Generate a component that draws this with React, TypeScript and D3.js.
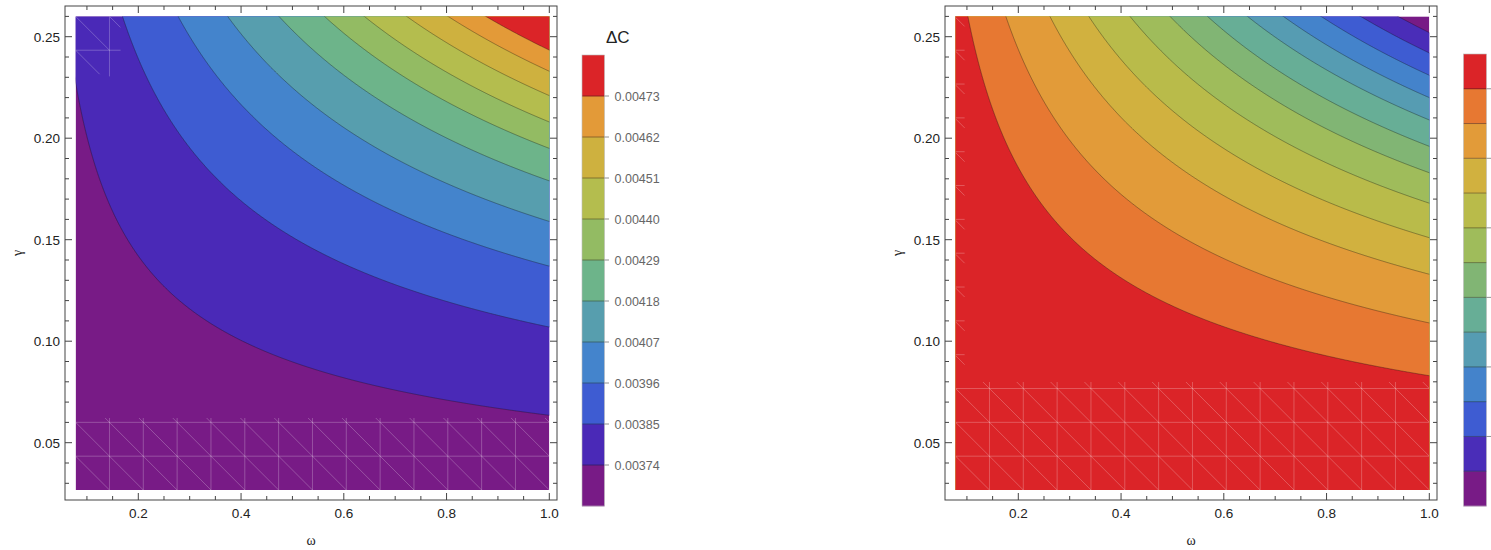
import React, { useMemo } from "react";
import * as d3 from "d3";

// ---------------- data ----------------
const X_MAJOR = [0.2, 0.4, 0.6, 0.8, 1.0];
const X_MINOR = [0.1, 0.15, 0.25, 0.3, 0.35, 0.45, 0.5, 0.55, 0.65, 0.7, 0.75, 0.85, 0.9, 0.95];
const Y_MAJOR = [0.05, 0.1, 0.15, 0.2, 0.25];
const Y_MINOR = [0.03, 0.04, 0.06, 0.07, 0.08, 0.09, 0.11, 0.12, 0.13, 0.14, 0.16, 0.17, 0.18, 0.19, 0.21, 0.22, 0.23, 0.24, 0.26];
const OMEGA_RANGE = [0.078, 1.0];
const GAMMA_RANGE = [0.0267, 0.26];

// Left panel: ΔC contour levels and where each contour lies (value of γ·√ω along the contour)
const LEFT_LEVELS = [0.00374, 0.00385, 0.00396, 0.00407, 0.00418, 0.00429, 0.0044, 0.00451, 0.00462, 0.00473];
const LEFT_LEVEL_U = [0.0635, 0.107, 0.137, 0.159, 0.179, 0.195, 0.208, 0.221, 0.233, 0.2434];
const LEFT_TICK_LABELS = ["0.00374", "0.00385", "0.00396", "0.00407", "0.00418", "0.00429", "0.00440", "0.00451", "0.00462", "0.00473"];
const LEFT_COLORS = ["#781b86", "#4a29b7", "#3e5cd2", "#4484cc", "#579eae", "#6db48a", "#93bb63", "#b4bd4e", "#ceb13f", "#e39a38", "#db2428"];

// Right panel: 12 contour levels (labels are cut off at the page edge)
const RIGHT_LEVELS = [1, 2, 3, 4, 5, 6, 7, 8, 9, 10, 11, 12];
const RIGHT_LEVEL_U = [0.252, 0.242, 0.231, 0.22, 0.209, 0.196, 0.183, 0.168, 0.151, 0.133, 0.109, 0.083];
const RIGHT_TICKED = [2, 4, 6, 8, 10, 12];
const RIGHT_COLORS = ["#781b86", "#4a2db8", "#3e5cd2", "#4483cb", "#569cb2", "#67ae96", "#81b574", "#9fbc5b", "#b9bb4a", "#d1b13f", "#e29b39", "#e77832", "#db2428"];

// ---------------- layout ----------------
const FRAME = { left: 65, right: 557, top: 6, bottom: 500 };
const FONT = "'Liberation Sans', Arial, sans-serif";

function makeScales(offset: number) {
  const xs = d3.scaleLinear().domain([0.2, 1.0]).range([138.3 + offset, 549.3 + offset]);
  const ys = d3.scaleLinear().domain([0.05, 0.25]).range([442.7, 36.7]);
  return { xs, ys };
}

function Panel({ offset, levels, levelU, colors, id, hatchTop, leftTicks, cornerArtifact }: any) {
  const { xs, ys } = makeScales(offset);
  const dL = xs(OMEGA_RANGE[0]);
  const dR = xs(OMEGA_RANGE[1]);
  const dT = ys(GAMMA_RANGE[1]);
  const dB = ys(GAMMA_RANGE[0]);

  const paths = useMemo(() => {
    const field = d3.scaleLinear().domain(levelU).range(levels);
    const step = 1;
    const x0 = dL - 3, x1 = dR + 3, y0 = dT - 3, y1 = dB + 3;
    const n = Math.ceil((x1 - x0) / step);
    const m = Math.ceil((y1 - y0) / step);
    const values = new Float64Array(n * m);
    for (let j = 0; j < m; j++) {
      const g = ys.invert(y0 + (j + 0.5) * step);
      for (let i = 0; i < n; i++) {
        const w = Math.max(xs.invert(x0 + (i + 0.5) * step), 0.001);
        values[j * n + i] = field(g * Math.sqrt(w));
      }
    }
    const cs = d3.contours().size([n, m]).thresholds(levels)(values as any);
    const proj = d3.geoTransform({
      point: function (this: any, x: number, y: number) {
        this.stream.point(x0 + x * step, y0 + y * step);
      },
    });
    const path = d3.geoPath(proj as any);
    return cs.map((c: any) => path(c) || "");
  }, [offset]);

  const fL = FRAME.left + offset, fR = FRAME.right + offset;
  const cw = (dR - dL) / 14, ch = (dB - dT) / 14;
  const hatch: any[] = [];
  const meshStroke = "rgba(255,255,255,0.3)";
  // mesh artifact near the bottom
  for (let r = 0; r < 14; r++) {
    const yt = dT + r * ch, yb = yt + ch;
    if (yb < hatchTop) continue;
    hatch.push(<line key={`h${r}`} x1={dL} x2={dR} y1={yt} y2={yt} />);
    for (let c = 0; c < 14; c++) {
      const xl = dL + c * cw;
      if (c > 0) hatch.push(<line key={`v${r}-${c}`} x1={xl} x2={xl} y1={yt} y2={yb} />);
      hatch.push(<line key={`d${r}-${c}`} x1={xl} x2={xl + cw} y1={yt} y2={yb} />);
    }
  }
  const edge: any[] = [];
  if (leftTicks) {
    for (let r = 0; r < 11; r++) {
      const y = dT + r * ch;
      edge.push(<line key={`e${r}`} x1={dL} x2={dL + 9} y1={y + 1} y2={y + 10} />);
      if (r > 0) edge.push(<line key={`eh${r}`} x1={dL} x2={dL + 9} y1={y} y2={y} />);
    }
  }
  if (cornerArtifact) {
    edge.push(<line key="c1" x1={dL} y1={dT} x2={dL + cw} y2={dT + ch} />);
    edge.push(<line key="c2" x1={dL} y1={dT + ch} x2={dL + 24} y2={dT + ch + 24} />);
    edge.push(<line key="c3" x1={dL + cw} y1={dT} x2={dL + cw + 11} y2={dT + 11} />);
    edge.push(<line key="c4" x1={dL + cw} y1={dT} x2={dL + cw} y2={dT + 60} />);
    edge.push(<line key="c5" x1={dL} y1={dT + ch} x2={dL + 45} y2={dT + ch} />);
  }

  return (
    <g>
      <defs>
        <clipPath id={`clip${id}`}>
          <rect x={dL} y={dT} width={dR - dL} height={dB - dT} />
        </clipPath>
        <clipPath id={`hclip${id}`}>
          <rect x={dL} y={hatchTop} width={dR - dL} height={dB - hatchTop} />
        </clipPath>
      </defs>
      <g clipPath={`url(#clip${id})`}>
        <rect x={dL} y={dT} width={dR - dL} height={dB - dT} fill={colors[0]} />
        {paths.map((p: string, i: number) => (
          <path key={`f${i}`} d={p} fill={colors[i + 1]} />
        ))}
        {paths.map((p: string, i: number) => (
          <path key={`s${i}`} d={p} fill="none" stroke="rgba(20,20,20,0.5)" strokeWidth={0.7} />
        ))}
        <g stroke={meshStroke} strokeWidth={0.8} clipPath={`url(#hclip${id})`}>{hatch}</g>
        <g stroke={meshStroke} strokeWidth={0.8}>{edge}</g>
      </g>
      {/* frame */}
      <rect x={fL} y={FRAME.top} width={fR - fL} height={FRAME.bottom - FRAME.top} fill="none" stroke="#444" strokeWidth={1} />
      <g stroke="#444" strokeWidth={1}>
        {X_MAJOR.map((v) => (
          <g key={`xm${v}`}>
            <line x1={xs(v)} x2={xs(v)} y1={FRAME.bottom} y2={FRAME.bottom - 7} />
            <line x1={xs(v)} x2={xs(v)} y1={FRAME.top} y2={FRAME.top + 7} />
          </g>
        ))}
        {X_MINOR.map((v) => (
          <g key={`xn${v}`}>
            <line x1={xs(v)} x2={xs(v)} y1={FRAME.bottom} y2={FRAME.bottom - 4} />
            <line x1={xs(v)} x2={xs(v)} y1={FRAME.top} y2={FRAME.top + 4} />
          </g>
        ))}
        {Y_MAJOR.map((v) => (
          <g key={`ym${v}`}>
            <line x1={fL} x2={fL + 7} y1={ys(v)} y2={ys(v)} />
            <line x1={fR} x2={fR - 7} y1={ys(v)} y2={ys(v)} />
          </g>
        ))}
        {Y_MINOR.map((v) => (
          <g key={`yn${v}`}>
            <line x1={fL} x2={fL + 4} y1={ys(v)} y2={ys(v)} />
            <line x1={fR} x2={fR - 4} y1={ys(v)} y2={ys(v)} />
          </g>
        ))}
      </g>
      <g fontFamily={FONT} fontSize={13.5} fill="#222">
        {X_MAJOR.map((v) => (
          <text key={`xl${v}`} x={xs(v)} y={518} textAnchor="middle">
            {d3.format(".1f")(v)}
          </text>
        ))}
        {Y_MAJOR.map((v) => (
          <text key={`yl${v}`} x={fL - 5} y={ys(v)} dy="0.36em" textAnchor="end">
            {d3.format(".2f")(v)}
          </text>
        ))}
      </g>
      <text x={(fL + fR) / 2} y={545} textAnchor="middle" fontFamily="'Liberation Serif', serif" fontSize={14} fill="#222">
        ω
      </text>
      <text transform={`translate(${18 + offset},253) rotate(-90)`} textAnchor="middle" dy="0.3em" fontFamily="'Liberation Serif', serif" fontSize={14} fill="#222">
        γ
      </text>
    </g>
  );
}

function ColorBar({ x, top, bottom, width, colors, tickIdx, labels }: any) {
  const n = colors.length;
  const bh = (bottom - top) / n;
  const yOf = (k: number) => bottom - k * bh; // boundary k from bottom (k=1..n-1)
  return (
    <g>
      {colors.map((c: string, i: number) => (
        <rect key={i} x={x} y={bottom - (i + 1) * bh} width={width} height={bh + 0.3} fill={c} />
      ))}
      {d3.range(1, n).map((k) => (
        <line key={`b${k}`} x1={x} x2={x + width} y1={yOf(k)} y2={yOf(k)} stroke="rgba(20,20,20,0.5)" strokeWidth={0.8} />
      ))}
      <rect x={x} y={top} width={width} height={bottom - top} fill="none" stroke="#bbb" strokeWidth={0.6} />
      {tickIdx.map((k: number, i: number) => (
        <g key={`t${k}`}>
          <line x1={x + width} x2={x + width + 4.5} y1={yOf(k)} y2={yOf(k)} stroke="#777" strokeWidth={0.8} />
          {labels ? (
            <text x={x + width + 10} y={yOf(k)} dy="0.36em" fontFamily={FONT} fontSize={12.5} fill="#666">
              {labels[i]}
            </text>
          ) : null}
        </g>
      ))}
    </g>
  );
}

export default function App() {
  return (
    <svg width={1491} height={550} style={{ position: "absolute", left: 0, top: 0, background: "#fff" }}>
      <rect width={1491} height={550} fill="#fff" />
      <Panel offset={0} id="L" levels={LEFT_LEVELS} levelU={LEFT_LEVEL_U} colors={LEFT_COLORS} hatchTop={418} leftTicks={false} cornerArtifact={true} />
      <Panel offset={880} id="R" levels={RIGHT_LEVELS} levelU={RIGHT_LEVEL_U} colors={RIGHT_COLORS} hatchTop={382} leftTicks={true} cornerArtifact={false} />
      <text x={606} y={43} fontFamily={FONT} fontSize={17} fill="#222">
        ΔC
      </text>
      <ColorBar x={582} top={55} bottom={506} width={22.5} colors={LEFT_COLORS} tickIdx={d3.range(1, 11)} labels={LEFT_TICK_LABELS} />
      <ColorBar x={1463.5} top={54} bottom={506} width={23} colors={RIGHT_COLORS} tickIdx={RIGHT_TICKED} labels={null} />
    </svg>
  );
}
